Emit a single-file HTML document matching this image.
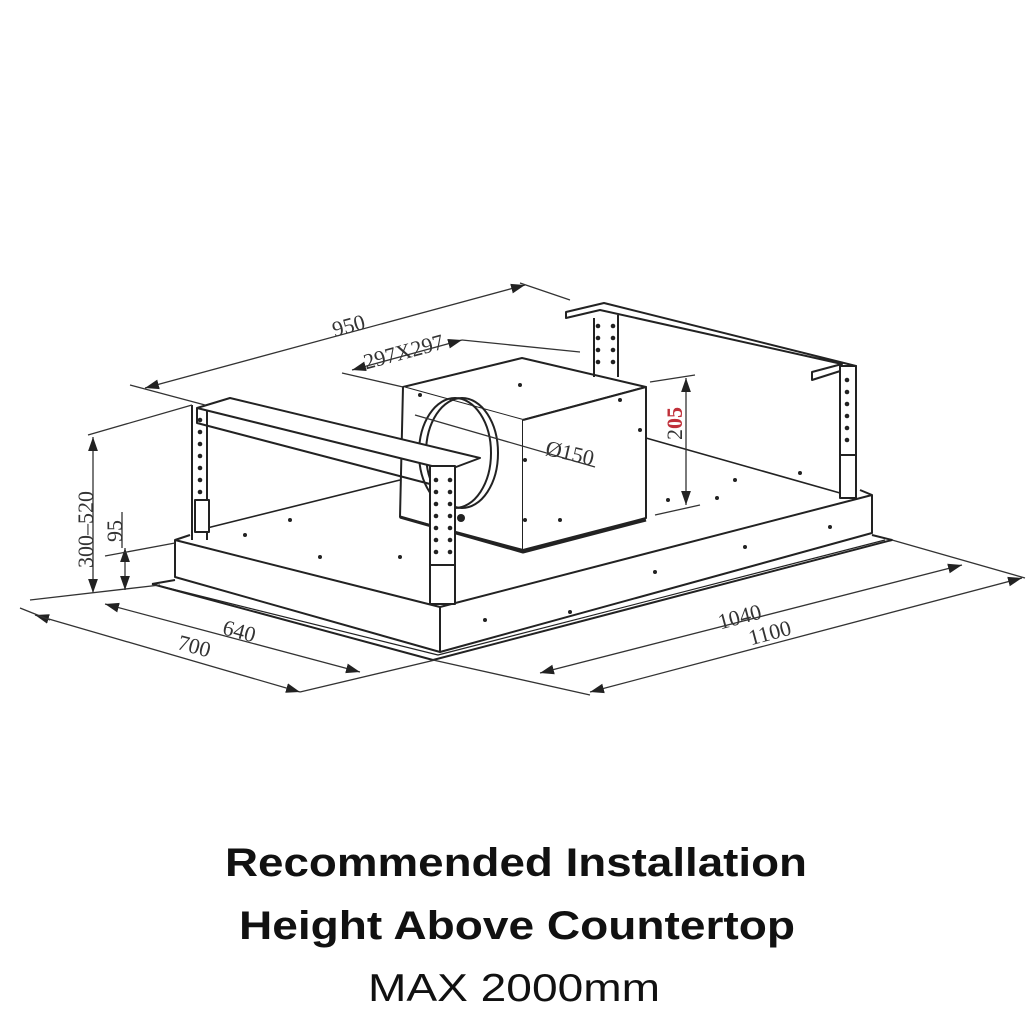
<!DOCTYPE html>
<html><head><meta charset="utf-8"><style>
html,body{margin:0;padding:0;background:#fff;}
svg{display:block;}
</style></head><body>
<svg width="1026" height="1026" viewBox="0 0 1026 1026" xmlns="http://www.w3.org/2000/svg">
<defs>
<marker id="a" viewBox="0 0 10 10" refX="10" refY="5" markerWidth="14" markerHeight="14" markerUnits="userSpaceOnUse" orient="auto-start-reverse">
<path d="M0,1.5 L10,5 L0,8.5 z" fill="#222"/></marker>
</defs>
<g fill="none" stroke="#222" stroke-width="2" stroke-linejoin="round">
<path d="M152,584 L175,580 M152,584 L433,660 L892,540 L872,535"/>
<path d="M160,586 L438,655 L885,540" stroke-width="1.2"/>
<path d="M175,540 L440,607 L872,495 L872,533 L440,652 L175,577 Z"/>
<path d="M440,607 L440,652"/>
<path d="M175,540 L190,535 M872,495 L860,490"/>
<path d="M207,528 L400,480" stroke-width="1.6"/>
<path d="M646,438 L840,493" stroke-width="1.6"/>
<path d="M403,387 L522,358 L646,387 L523,420 Z" fill="#fff"/>
<path d="M403,387 L400,517 L523,550 L523,420" fill="#fff"/>
<path d="M523,420 L646,387 L646,518 L523,550" fill="#fff"/>
<path d="M400,517 L523,552 L646,520" stroke-width="3"/>
<ellipse cx="455" cy="453" rx="36" ry="55"/>
<ellipse cx="462" cy="453" rx="36" ry="55"/>
<path d="M197,408 L230,398 L480,458 L448,470 Z" fill="#fff"/>
<path d="M197,408 L197,423 L430,484 M448,470 L448,484"/>
<path d="M192,405 L192,540 M207,410 L207,540" />
<rect x="430" y="466" width="25" height="138" fill="#fff"/>
<path d="M430,565 L455,565"/>
<rect x="195" y="500" width="14" height="32" fill="#fff"/>
<path d="M566,312 L604,303 L856,366 L812,380 L812,372 L842,364 L600,310 L566,318 Z" fill="#fff"/>
<path d="M594,318 L594,377 M618,315 L618,377"/>
<rect x="840" y="366" width="16" height="132" fill="#fff"/>
<path d="M840,455 L856,455"/>
</g>
<g fill="#222">
<circle cx="200" cy="420" r="2.3"/><circle cx="200" cy="432" r="2.3"/><circle cx="200" cy="444" r="2.3"/><circle cx="200" cy="456" r="2.3"/><circle cx="200" cy="468" r="2.3"/><circle cx="200" cy="480" r="2.3"/><circle cx="200" cy="492" r="2.3"/>
<circle cx="436" cy="480" r="2.3"/><circle cx="436" cy="492" r="2.3"/><circle cx="436" cy="504" r="2.3"/><circle cx="436" cy="516" r="2.3"/><circle cx="436" cy="528" r="2.3"/><circle cx="436" cy="540" r="2.3"/><circle cx="436" cy="552" r="2.3"/>
<circle cx="450" cy="480" r="2.3"/><circle cx="450" cy="492" r="2.3"/><circle cx="450" cy="504" r="2.3"/><circle cx="450" cy="516" r="2.3"/><circle cx="450" cy="528" r="2.3"/><circle cx="450" cy="540" r="2.3"/><circle cx="450" cy="552" r="2.3"/>
<circle cx="598" cy="326" r="2.3"/><circle cx="598" cy="338" r="2.3"/><circle cx="598" cy="350" r="2.3"/><circle cx="598" cy="362" r="2.3"/>
<circle cx="613" cy="326" r="2.3"/><circle cx="613" cy="338" r="2.3"/><circle cx="613" cy="350" r="2.3"/><circle cx="613" cy="362" r="2.3"/>
<circle cx="847" cy="380" r="2.3"/><circle cx="847" cy="392" r="2.3"/><circle cx="847" cy="404" r="2.3"/><circle cx="847" cy="416" r="2.3"/><circle cx="847" cy="428" r="2.3"/><circle cx="847" cy="440" r="2.3"/>
<circle cx="290" cy="520" r="2"/><circle cx="245" cy="535" r="2"/><circle cx="320" cy="557" r="2"/><circle cx="400" cy="557" r="2"/><circle cx="560" cy="520" r="2"/><circle cx="668" cy="500" r="2"/><circle cx="735" cy="480" r="2"/><circle cx="800" cy="473" r="2"/><circle cx="717" cy="498" r="2"/>
<circle cx="485" cy="620" r="2"/><circle cx="570" cy="612" r="2"/><circle cx="655" cy="572" r="2"/><circle cx="745" cy="547" r="2"/><circle cx="830" cy="527" r="2"/><circle cx="520" cy="385" r="2"/><circle cx="420" cy="395" r="2"/><circle cx="620" cy="400" r="2"/><circle cx="525" cy="460" r="2"/><circle cx="640" cy="430" r="2"/><circle cx="525" cy="520" r="2"/>
<circle cx="461" cy="518" r="4"/>
</g>
<g fill="none" stroke="#333" stroke-width="1.3">
<path d="M145,388 L525,285" marker-start="url(#a)" marker-end="url(#a)"/>
<path d="M130,385 L205,405 M520,283 L570,300"/>
<path d="M352,370 L462,340" marker-start="url(#a)" marker-end="url(#a)"/>
<path d="M342,373 L403,387 M462,340 L580,352"/>
<path d="M415,415 L595,467"/>
<path d="M686,378 L686,505" marker-start="url(#a)" marker-end="url(#a)"/>
<path d="M650,382 L695,375 M655,515 L700,505"/>
<path d="M93,437 L93,593" marker-start="url(#a)" marker-end="url(#a)"/>
<path d="M88,435 L192,405 M30,600 L160,585"/>
<path d="M125,548 L125,590" marker-start="url(#a)" marker-end="url(#a)"/>
<path d="M122,512 L122,548 M105,556 L175,543"/>
<path d="M105,604 L360,672" marker-start="url(#a)" marker-end="url(#a)"/>
<path d="M35,615 L300,692" marker-start="url(#a)" marker-end="url(#a)"/>
<path d="M20,608 L50,620 M300,692 L435,660"/>
<path d="M962,565 L540,673" marker-start="url(#a)" marker-end="url(#a)"/>
<path d="M1022,578 L590,692" marker-start="url(#a)" marker-end="url(#a)"/>
<path d="M892,540 L1025,578 M433,660 L590,695"/>
</g>
<g font-family="Liberation Serif, serif" font-size="22" fill="#333">
<text x="332" y="332" transform="rotate(-15 352 325)">950</text>
<text x="362" y="360" transform="rotate(-15 400 350)">297X297</text>
<text x="545" y="460" transform="rotate(13 568 455)">Ø150</text>
<text x="0" y="0" transform="translate(682,440) rotate(-90)" fill="#333">2<tspan fill="#c0303a" font-weight="bold">05</tspan></text>
<text x="0" y="0" transform="translate(93,568) rotate(-90)">300–520</text>
<text x="0" y="0" transform="translate(122,542) rotate(-90)">95</text>
<text x="222" y="640" transform="rotate(15 245 635)">640</text>
<text x="177" y="655" transform="rotate(15 200 650)">700</text>
<text x="718" y="624" transform="rotate(-15 740 618)">1040</text>
<text x="748" y="640" transform="rotate(-15 770 632)">1100</text>
</g>
<g font-family="Liberation Sans, sans-serif" fill="#111" text-anchor="middle">
<text x="516" y="876" font-size="40" font-weight="bold" textLength="582" lengthAdjust="spacingAndGlyphs">Recommended Installation</text>
<text x="517" y="939" font-size="40" font-weight="bold" textLength="556" lengthAdjust="spacingAndGlyphs">Height Above Countertop</text>
<text x="514" y="1001" font-size="39" textLength="292" lengthAdjust="spacingAndGlyphs">MAX 2000mm</text>
</g>
</svg>
</body></html>
